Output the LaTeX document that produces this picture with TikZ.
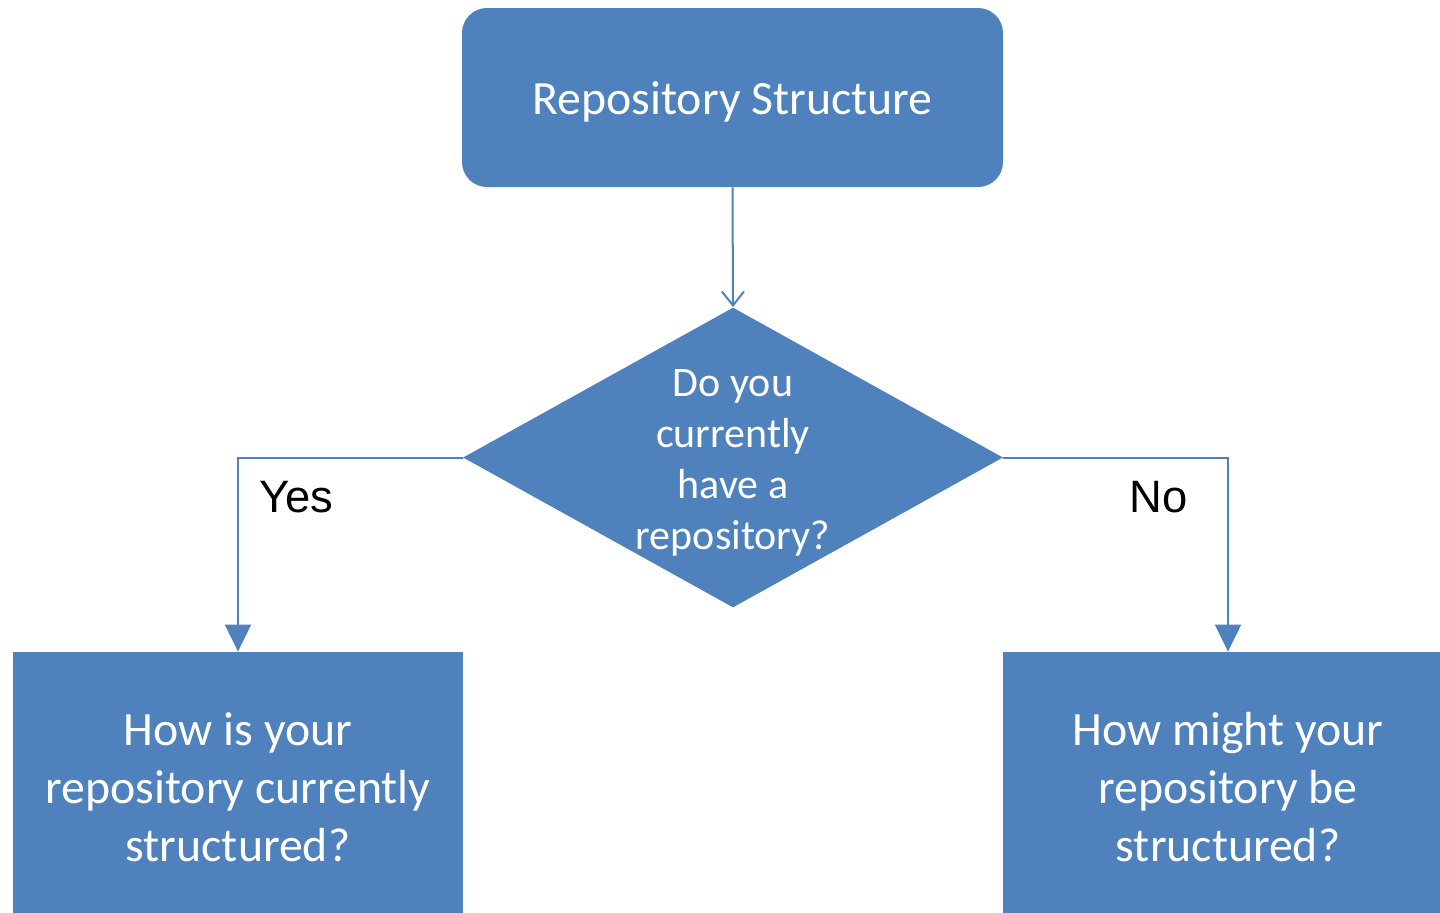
\documentclass[tikz,border=0pt]{standalone}
\usepackage{fontspec}
\setmainfont{Carlito}
\newfontfamily\arialfont{Liberation Sans}
\usetikzlibrary{shapes.geometric,arrows.meta}
\definecolor{OfficeBlue}{RGB}{79,129,189}

\begin{document}
\begin{tikzpicture}[x=0.5pt,y=0.5pt,yscale=-1,xscale=1,
	block/.style={fill=OfficeBlue, text=white, align=center, inner sep=0pt},
	startbox/.style={block, rounded corners=12.5pt, minimum width=270.5pt, minimum height=89.5pt, text height=20.5pt, font=\fontsize{23.9}{29}\selectfont},
	answerbox/.style={block, minimum width=225pt, minimum height=135pt, font=\fontsize{23.9}{29}\selectfont},
	question/.style={diamond, fill=OfficeBlue, inner sep=0pt, minimum width=270pt, minimum height=150pt},
	qtext/.style={text=white, align=center, inner sep=0pt, font=\fontsize{21}{25.5}\selectfont},
	branch/.style={font=\arialfont\fontsize{22.7}{27}\selectfont, inner sep=0pt},
	flow/.style={draw=OfficeBlue, line width=1pt},
	]
		% Set diagram to 1440 x 912
		\useasboundingbox (0,0) rectangle (1440,912);

		% The rounded box at the top
		\node[startbox] (repo) at (732.5,97.5) {Repository Structure};

		% The question diamond and its text
		\node[question] (q) at (733,457.5) {};
		\node[qtext] (qlabel) at (733,463) {Do you\\currently\\have a\\repository?};

		% The two answer boxes (cut by the page edge)
		\node[answerbox] (current) at (238,787) {How is your\\repository currently\\structured?};
		\node[answerbox] (future) at (1228,787) {How might your\\repository be\\structured?};

		% Connectors
		\draw[flow, -{Straight Barb[length=7pt,width=11pt,line width=1pt]}] (repo.south) -- (q.north);
		\draw[flow, -{Triangle[length=13.5pt,width=13pt]}] (q.west) -| (current.north);
		\draw[flow, -{Triangle[length=13.5pt,width=13pt]}] (q.east) -| (future.north);

		% Yes / No
		\node[branch] (yes) at (296.5,497) {Yes};
		\node[branch] (no) at (1159,497) {No};
\end{tikzpicture}
\end{document}
